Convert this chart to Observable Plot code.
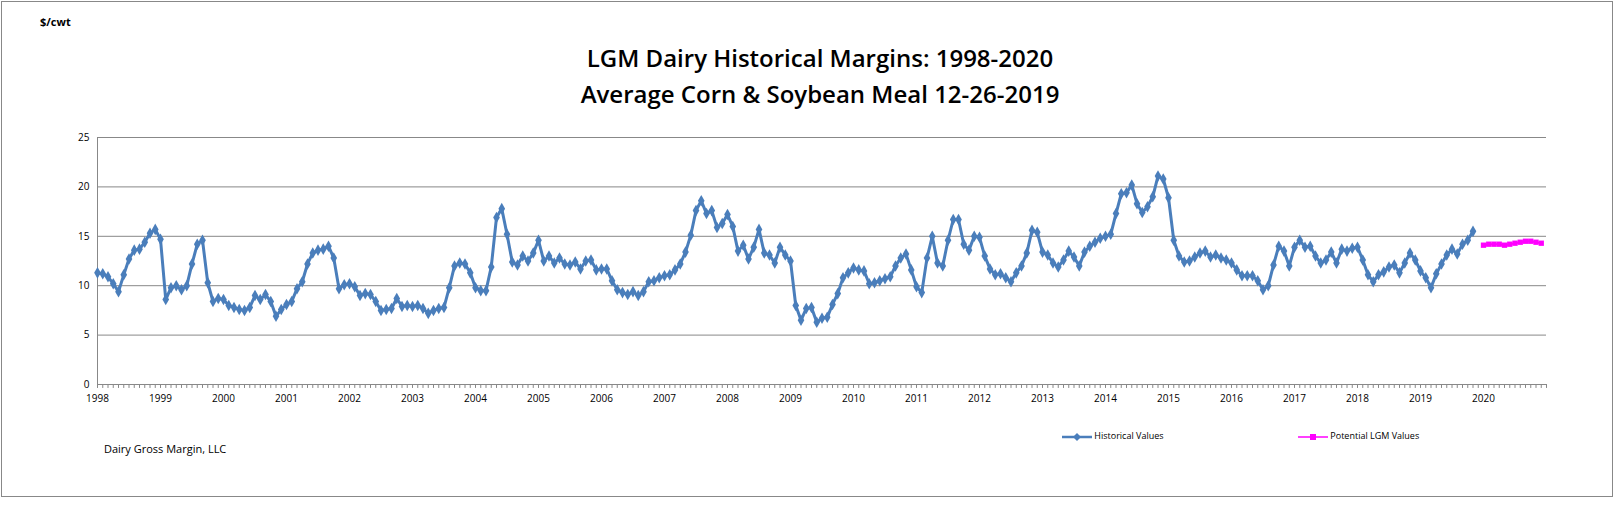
<!DOCTYPE html>
<html><head><meta charset="utf-8">
<script src="https://cdn.jsdelivr.net/npm/d3@7"></script>
<script src="https://cdn.jsdelivr.net/npm/@observablehq/plot@0.6"></script>
<style>
body{margin:0;background:#fff;font-family:"Open Sans",sans-serif}
#wrap{position:relative;width:1616px;height:511px}
#frame{position:absolute;left:1px;top:1px;width:1610px;height:494px;border:1px solid #888}
.t{position:absolute;white-space:nowrap}
</style></head><body>
<div id="wrap"><div id="frame"></div>
<div class="t" style="left:40px;top:14px;font-size:11px;font-weight:bold">$/cwt</div>
<div class="t" style="left:0;width:1640px;top:40px;text-align:center;font-size:24px;font-weight:600;line-height:36px">LGM Dairy Historical Margins: 1998-2020<br>Average Corn &amp; Soybean Meal 12-26-2019</div>
<div class="t" style="left:104px;top:441px;font-size:11px">Dairy Gross Margin, LLC</div>
<div class="t" style="left:1062px;top:429px;font-size:9px"><svg width="30" height="10" style="vertical-align:middle"><line x1="0" y1="5" x2="30" y2="5" stroke="#4a7ebb" stroke-width="2.5"/><path d="M15 1L19 5L15 9L11 5Z" fill="#4a7ebb"/></svg> Historical Values</div>
<div class="t" style="left:1298px;top:429px;font-size:9px"><svg width="30" height="10" style="vertical-align:middle"><line x1="0" y1="5" x2="30" y2="5" stroke="#ff00ff" stroke-width="1.5"/><rect x="12" y="2" width="6" height="6" fill="#ff00ff"/></svg> Potential LGM Values</div>
<div id="chart" style="position:absolute;left:0;top:0"></div>
</div>
<script>
const startYear = 1998;
const historical = [
11.3,11.2,10.9,10.2,9.4,11.1,12.7,13.6,13.7,14.4,15.3,15.7,
14.7,8.6,9.8,10.0,9.6,10.0,12.2,14.2,14.6,10.3,8.4,8.7,
8.6,8.0,7.8,7.6,7.5,7.8,9.0,8.6,9.1,8.4,6.9,7.6,
8.1,8.4,9.7,10.4,12.2,13.3,13.6,13.7,14.0,12.8,9.7,10.1,
10.2,9.9,9.0,9.2,9.1,8.4,7.5,7.6,7.7,8.7,7.9,8.0,
7.9,8.0,7.7,7.2,7.5,7.7,7.8,9.8,12.0,12.3,12.2,11.3,
9.8,9.5,9.5,11.9,16.9,17.8,15.2,12.4,12.1,13.0,12.5,13.3,
14.6,12.5,13.0,12.3,12.8,12.2,12.1,12.4,11.7,12.5,12.6,11.6,
11.7,11.7,10.5,9.6,9.3,9.1,9.4,9.0,9.4,10.4,10.5,10.8,
11.0,11.1,11.6,12.2,13.4,15.1,17.6,18.6,17.3,17.6,15.9,16.3,
17.2,16.0,13.5,14.1,12.7,13.9,15.7,13.3,13.1,12.3,13.9,13.1,
12.5,8.0,6.5,7.7,7.8,6.3,6.7,6.8,8.1,9.2,10.8,11.3,
11.8,11.6,11.5,10.2,10.3,10.5,10.7,10.9,12.0,12.8,13.2,11.6,
9.9,9.3,12.8,15.0,12.3,12.0,14.6,16.7,16.7,14.2,13.6,15.0,
14.9,13.0,11.7,11.1,11.2,10.8,10.4,11.3,12.0,13.3,15.6,15.4,
13.4,13.1,12.3,11.9,12.6,13.5,12.9,12.0,13.4,14.0,14.4,14.8,
15.0,15.2,17.3,19.3,19.4,20.2,18.3,17.4,18.0,19.0,21.1,20.8,
18.9,14.6,13.0,12.4,12.5,12.9,13.3,13.5,12.9,13.1,12.8,12.6,
12.3,11.6,11.0,11.0,11.0,10.5,9.6,10.0,12.1,14.0,13.5,12.0,
13.9,14.6,13.9,14.0,13.0,12.3,12.6,13.4,12.3,13.7,13.5,13.8,
13.9,12.6,11.1,10.4,11.1,11.4,11.9,12.1,11.3,12.3,13.3,12.6,
11.5,10.8,9.8,11.2,12.2,13.1,13.7,13.2,14.2,14.6,15.5];
const potentialStart = 2020;
const potential = [14.1,14.2,14.2,14.2,14.1,14.2,14.3,14.4,14.5,14.5,14.4,14.3];
const yearTicks = d3.range(1998, 2021);
const yTicks = [0,5,10,15,20,25];

const hist = historical.map((v,i)=>({x:startYear+i/12, y:v}));
const pot = potential.map((v,i)=>({x:potentialStart+i/12, y:v}));
const monthTicks = d3.range(0, 23*12+1).map(i=>1998+i/12);

const chart = Plot.plot({
  width:1616, height:500,
  marginLeft:97, marginRight:70, marginTop:137, marginBottom:116,
  style:{fontFamily:"Open Sans, sans-serif", fontSize:"10px", background:"transparent"},
  x:{type:"linear", domain:[1998,2021], label:null},
  y:{type:"linear", domain:[0,25], label:null},
  marks:[
    Plot.ruleY(yTicks,{stroke:"#888", strokeWidth:1}),
    Plot.ruleX([1998],{y1:0, y2:25, stroke:"#888"}),
    Plot.ruleX(monthTicks,{x:d=>d, y1:0, y2:-0.4, stroke:"#888", strokeWidth:1}),
    Plot.axisX({ticks:yearTicks, tickFormat:d=>String(d), tickSize:0, tickPadding:10, fontSize:10}),
    Plot.axisY({ticks:yTicks, tickSize:0, tickPadding:8, fontSize:10}),
    Plot.line(hist,{x:"x", y:"y", stroke:"#4a7ebb", strokeWidth:3}),
    Plot.dot(hist,{x:"x", y:"y", symbol:"diamond", r:3.5, fill:"#4a7ebb"}),
    Plot.line(pot,{x:"x", y:"y", stroke:"#ff00ff", strokeWidth:2}),
    Plot.dot(pot,{x:"x", y:"y", symbol:"square", r:3, fill:"#ff00ff"})
  ]
});
document.getElementById("chart").appendChild(chart);
</script>
</body></html>
